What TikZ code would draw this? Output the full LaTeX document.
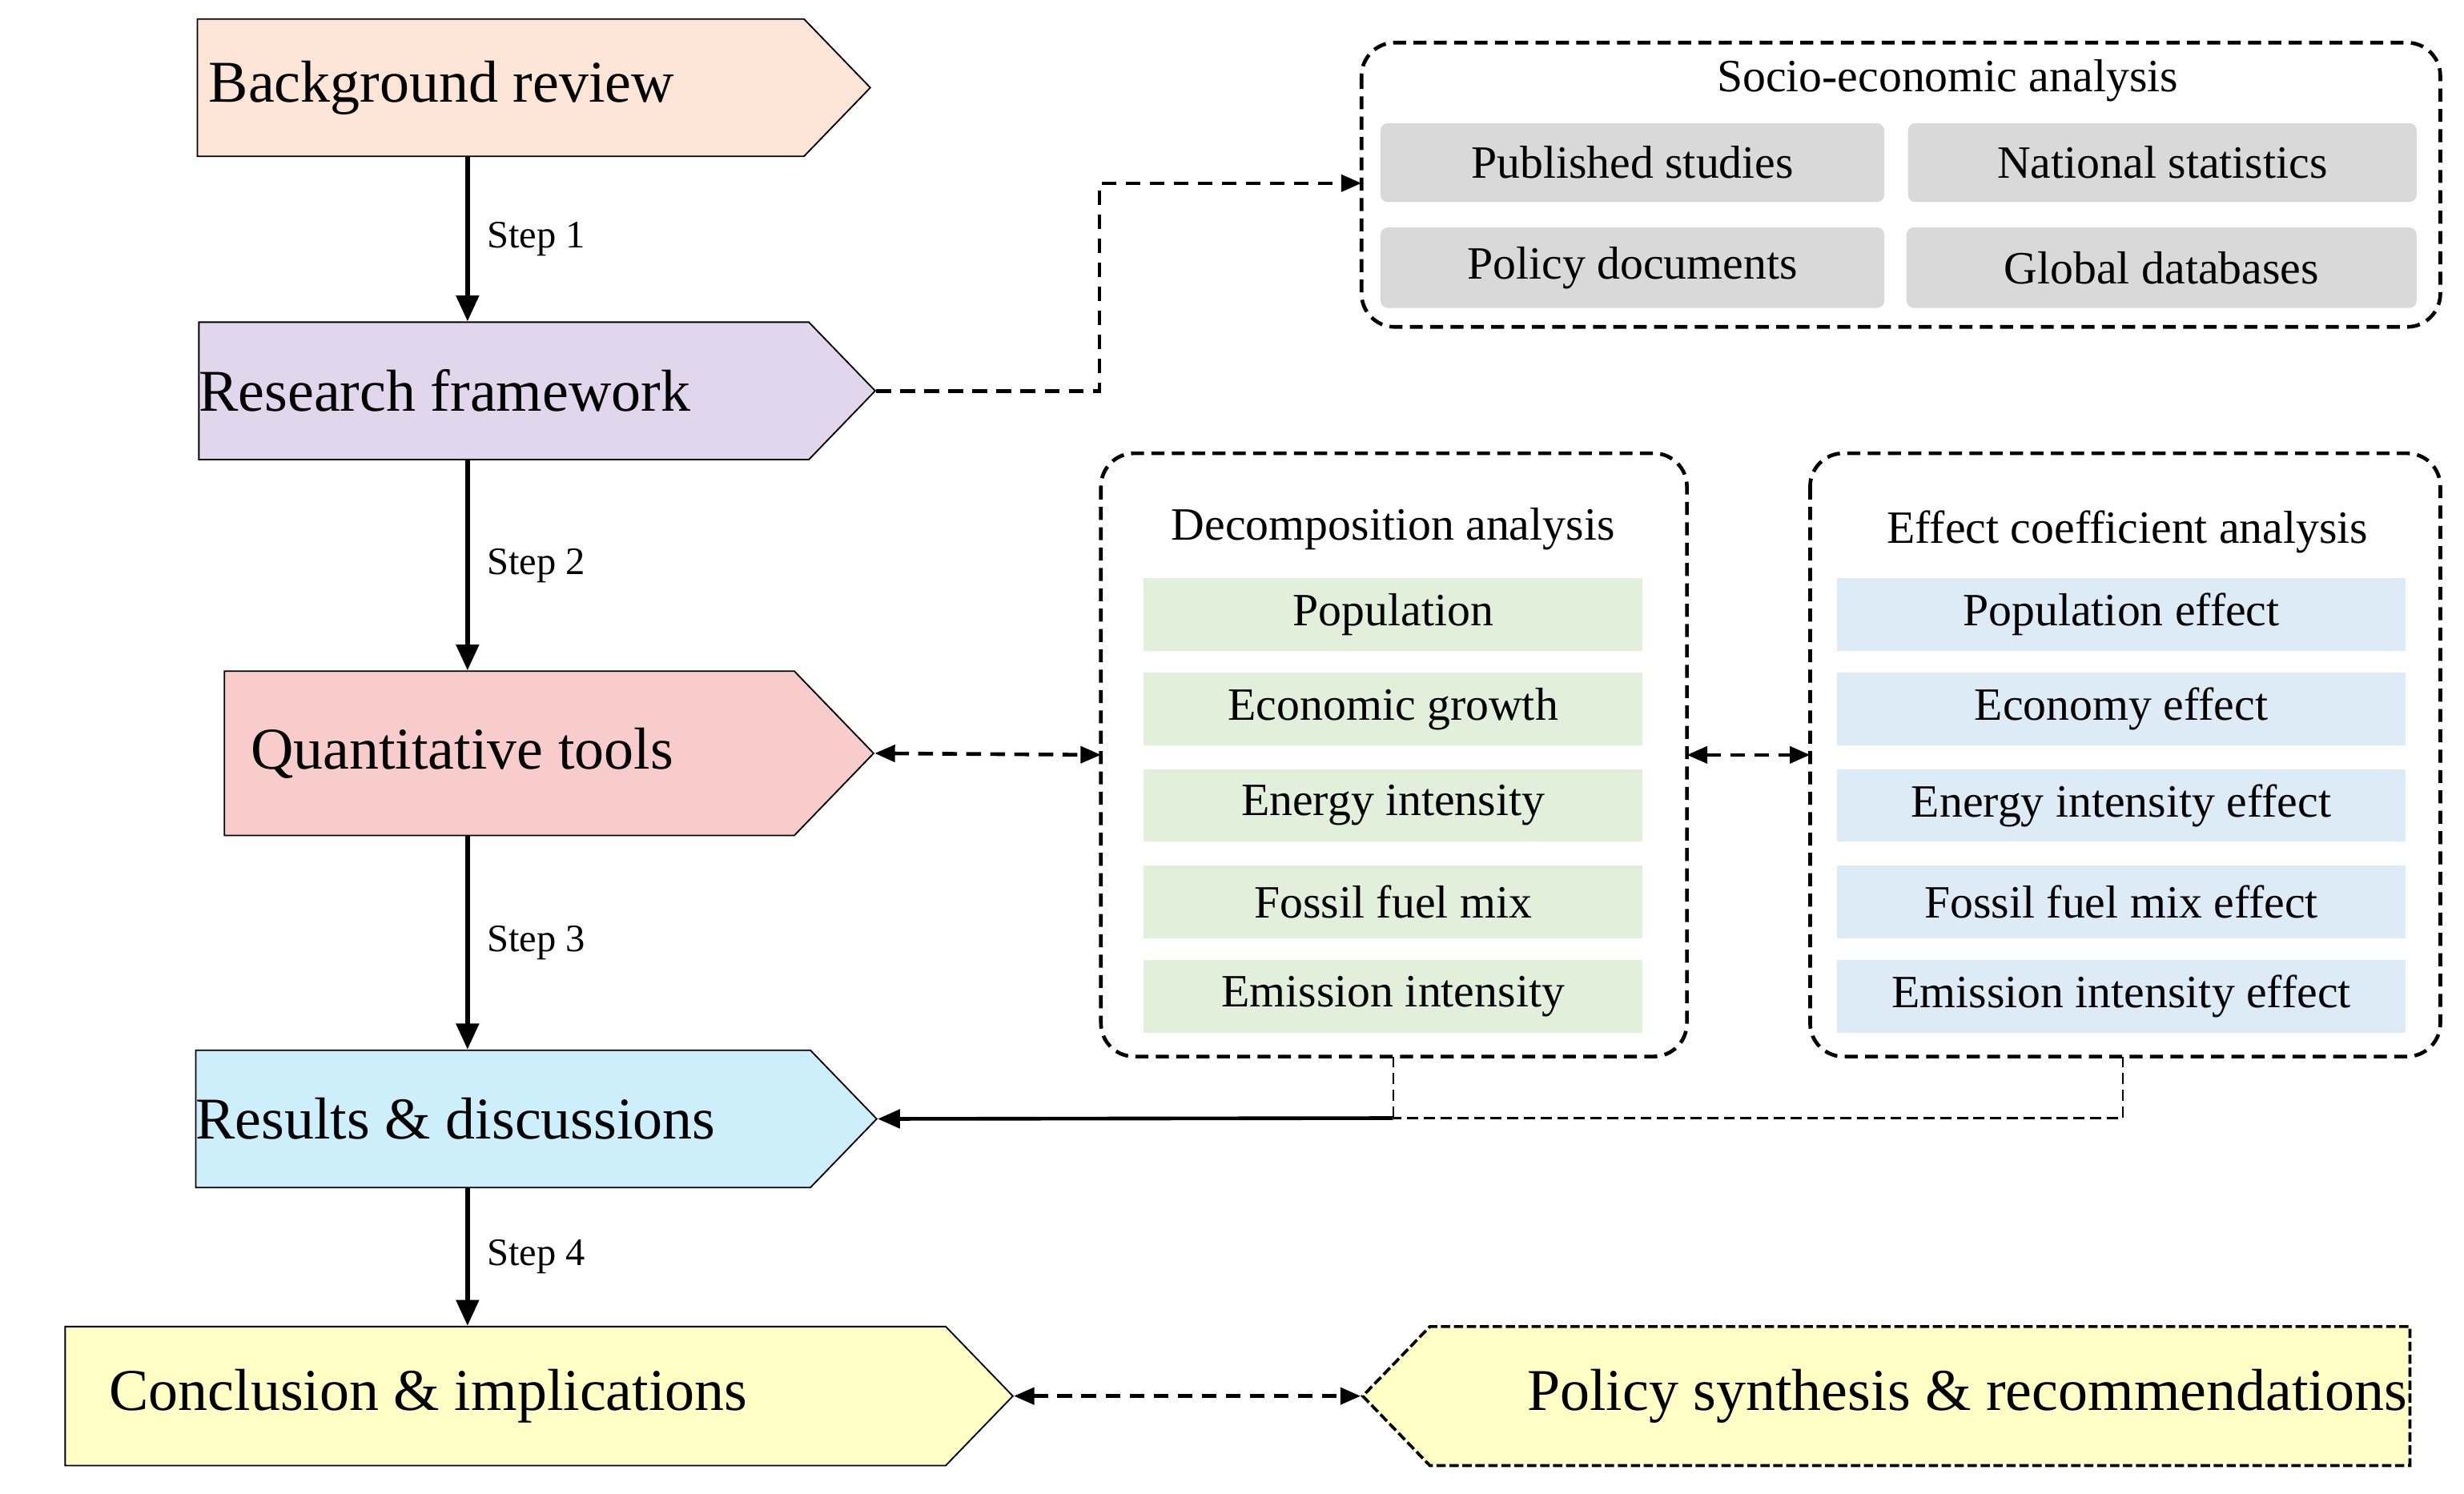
\documentclass[tikz,border=0pt]{standalone}
\usepackage{fontspec}
\setmainfont{Liberation Serif}
\usetikzlibrary{shapes.symbols,arrows.meta,calc}
\definecolor{cpeach}{HTML}{FCE4D6}
\definecolor{clav}{HTML}{E2D6EC}
\definecolor{cpink}{HTML}{F9CCCC}
\definecolor{cblue}{HTML}{CDEFFB}
\definecolor{cyel}{HTML}{FFFFC6}
\definecolor{cgray}{HTML}{D9D9D9}
\definecolor{cgreen}{HTML}{E2EFDA}
\definecolor{clblue}{HTML}{DDEBF7}
\tikzset{
  mainbox/.style={signal, signal to=east, signal pointer angle=92, draw, line width=0.8pt, inner sep=0pt, font=\fontsize{32}{36}\selectfont},
  grp/.style={draw, dashed, dash pattern=on 7pt off 4pt, line width=2pt, rounded corners=18pt},
  itemg/.style={fill=cgray, rounded corners=4pt, inner sep=0pt, font=\fontsize{25}{30}\selectfont},
  itemd/.style={fill=cgreen, inner sep=0pt, font=\fontsize{25}{30}\selectfont},
  iteme/.style={fill=clblue, inner sep=0pt, font=\fontsize{25}{30}\selectfont},
  ttl/.style={font=\fontsize{25}{30}\selectfont},
  steparrow/.style={-{Triangle[length=14pt,width=12pt]}, line width=2.6pt},
  steplbl/.style={anchor=west, font=\fontsize{21}{24}\selectfont},
  dlink/.style={dashed, dash pattern=on 8pt off 5pt, line width=2pt},
  thin dl/.style={dashed, dash pattern=on 6pt off 3pt, line width=1pt},
}
\begin{document}
\begin{tikzpicture}[x=0.3mm,y=-0.3mm]
\useasboundingbox (0,0) rectangle (1560,946);
% main boxes
\node[mainbox, fill=cpeach, minimum width=426*0.3mm, minimum height=87*0.3mm] (bg) at (317,55.5) {Background review\hspace*{2em}};
\node[mainbox, fill=clav, minimum width=426*0.3mm, minimum height=87*0.3mm] (rf) at (319,247.5) {Research framework\hspace*{2em}};
\node[mainbox, fill=cpink, minimum width=411*0.3mm, minimum height=104*0.3mm] (qt) at (322.5,477) {Quantitative tools\hspace*{1.6em}};
\node[mainbox, fill=cblue, minimum width=417*0.3mm, minimum height=87*0.3mm] (rd) at (318.5,708.5) {Results \& discussions\hspace*{1.6em}};
\node[mainbox, fill=cyel, minimum width=600*0.3mm, minimum height=88*0.3mm] (ci) at (320,884) {Conclusion \& implications\hspace*{2.6em}};
\node[mainbox, signal to=west, fill=cyel, dashed, dash pattern=on 5pt off 2pt, line width=1.6pt, minimum width=663*0.3mm, minimum height=88*0.3mm] (ps) at (1215.5,884) {\hspace*{1.6em}Policy synthesis \& recommendations};
% step arrows
\draw[steparrow] (bg.south -| 296,0) -- (rf.north -| 296,0) node[midway, steplbl, xshift=6pt] {Step 1};
\draw[steparrow] (rf.south -| 296,0) -- (qt.north -| 296,0) node[midway, steplbl, xshift=6pt] {Step 2};
\draw[steparrow] (qt.south -| 296,0) -- (rd.north -| 296,0) node[midway, steplbl, xshift=6pt] {Step 3};
\draw[steparrow] (rd.south -| 296,0) -- (ci.north -| 296,0) node[midway, steplbl, xshift=6pt] {Step 4};
% socio-economic group
\draw[grp] (862,27) rectangle (1545,207);
\coordinate (sehead) at (862,116);
\node[ttl] (set) at (1233,51) {Socio-economic analysis};
\node[itemg, minimum width=319*0.3mm, minimum height=50*0.3mm] (s1) at (1033.5,103) {Published studies};
\node[itemg, minimum width=322*0.3mm, minimum height=50*0.3mm] (s2) at (1369,103) {National statistics};
\node[itemg, minimum width=319*0.3mm, minimum height=51*0.3mm] (s3) at (1033.5,169.5) {Policy documents};
\node[itemg, minimum width=323*0.3mm, minimum height=51*0.3mm] (s4) at (1368.5,169.5) {Global databases};
% decomposition group
\draw[grp] (697,287) rectangle (1068,669);
\coordinate (decL) at (697,478);
\coordinate (decR) at (1068,478);
\coordinate (decB) at (882,669);
\node[ttl] (dt) at (882,335) {Decomposition analysis};
\foreach \t/\y/\n in {Population/389/d1, Economic growth/449/d2, Energy intensity/510/d3, Fossil fuel mix/571/d4, Emission intensity/631/d5}
  \node[itemd, minimum width=316*0.3mm, minimum height=46*0.3mm] (\n) at (882,\y) {\t};
% effect group
\draw[grp] (1146,287) rectangle (1545,669);
\coordinate (effL) at (1146,478);
\coordinate (effB) at (1344,669);
\node[ttl] (et) at (1347,337) {Effect coefficient analysis};
\foreach \t/\y/\n in {Population effect/389/e1, Economy effect/449/e2, Energy intensity effect/510/e3, Fossil fuel mix effect/571/e4, Emission intensity effect/631/e5}
  \node[iteme, minimum width=360*0.3mm, minimum height=46*0.3mm] (\n) at (1343,\y) {\t};
% connectors
\draw[dlink, -{Triangle[length=11pt,width=9pt]}] (rf.east) -- (696,247.5) |- (sehead);
\draw[dlink, {Triangle[length=11pt,width=9pt]}-{Triangle[length=11pt,width=9pt]}] (qt.east) -- (decL);
\draw[dlink, {Triangle[length=11pt,width=9pt]}-{Triangle[length=11pt,width=9pt]}] (decR) -- (effL);
\coordinate (j1) at (882,708);
\draw[thin dl] (decB) -- (j1);
\draw[thin dl] (effB) |- (j1);
\draw[line width=2pt, -{Triangle[length=12pt,width=10pt]}] (j1) -- (rd.east);
\draw[dlink, {Triangle[length=11pt,width=9pt]}-{Triangle[length=11pt,width=9pt]}] (ci.east) -- (ps.west);
\end{tikzpicture}
\end{document}
